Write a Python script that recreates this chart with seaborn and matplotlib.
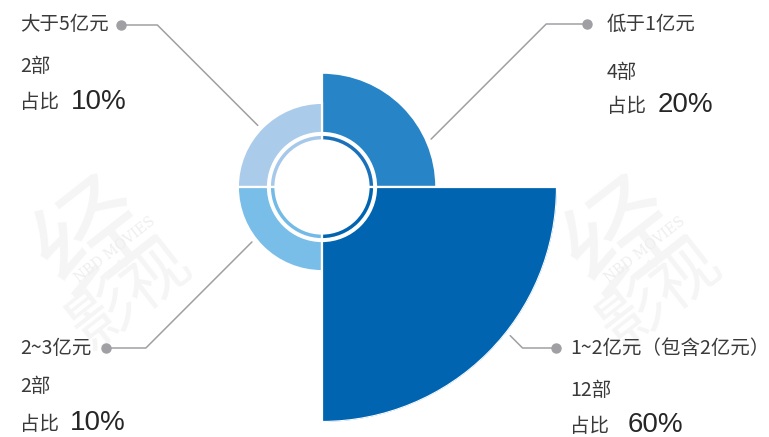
import numpy as np
import pandas as pd
import matplotlib
matplotlib.use("Agg")
import matplotlib.pyplot as plt
from matplotlib.lines import Line2D
import seaborn as sns

# ---------------- data ----------------
categories = ["低于1亿元", "大于5亿元", "2~3亿元", "1~2亿元（包含2亿元）"]
counts = [4, 2, 2, 12]            # 部
shares = [20, 10, 10, 60]         # 占比 %

# ---------------- style ----------------
sns.set_theme(style="white")
plt.rcParams["font.family"] = ["Noto Sans CJK SC", "DejaVu Sans"]

W, H = 769, 437
fig = plt.figure(figsize=(W / 100, H / 100), dpi=100)
fig.patch.set_facecolor("white")

sector_colors = ["#2784c7", "#abcbeb", "#79bee9", "#0064b1"]
ring_colors = ["#1b70ba", "#a6c8ea", "#74bae7", "#0064b1"]
text_color = "#3a3a3a"

# quadrant order: top-right, top-left, bottom-left, bottom-right
theta_centers = np.pi / 4 + np.arange(len(categories)) * np.pi / 2

# centre of the rose and outer pixel radius of the largest value
cx, cy, R = 322, 187, 235
HOLE = 54                     # pixel radius where value 0 sits
rmax = max(shares)
rmin = -HOLE * rmax / (R - HOLE)   # radial value at the centre

ax = fig.add_axes([(cx - R) / W, (H - cy - R) / H, 2 * R / W, 2 * R / H],
                  projection="polar")

df = pd.DataFrame({"theta": theta_centers, "share": shares, "cat": categories})
sns.barplot(data=df, x="theta", y="share", hue="cat", native_scale=True,
            palette=dict(zip(categories, sector_colors)), width=1.0,
            saturation=1, errorbar=None, legend=False, dodge=False, ax=ax,
            edgecolor="white", linewidth=1.6, bottom=0)

# thin inner ring
px2v = (R - HOLE) / rmax
ring_in, ring_out = (46.5 - HOLE) / px2v, (52.2 - HOLE) / px2v
ax.bar(theta_centers, [ring_out - ring_in] * len(categories), width=np.pi / 2,
       bottom=ring_in, color=ring_colors, edgecolor="white", linewidth=1.6,
       align="center")

ax.set_xlim(0, 2 * np.pi)
ax.set_ylim(rmin, rmax)
ax.set_axis_off()

# ---------------- watermark ----------------
for (wx, wy) in [(95, 240), (625, 240)]:
    fig.text(wx / W, 1 - wy / H, "经", fontsize=80, color="#f5f5f5",
             rotation=38, ha="center", va="center", zorder=-5)
    fig.text((wx + 35) / W, 1 - (wy + 55) / H, "影视", fontsize=48,
             color="#f5f5f5", rotation=38, ha="center", va="center", zorder=-5)
    fig.text((wx + 20) / W, 1 - (wy + 10) / H, "NBD MOVIES", fontsize=10,
             color="#eeeeee", rotation=38, ha="center", va="center",
             family="DejaVu Serif", zorder=-4)

# ---------------- labels & leader lines ----------------
# (start angle deg, dot x, dot y, text x, title y, count y, share y, pct x)
layout = [
    (23.7, 586.5, 24, 607, 24, 72, 106, 658),
    (136.2, 120.5, 25, 20, 25, 66, 103, 71),
    (218.1, 105.5, 348, 20, 348, 387, 424, 70),
    (321.7, 556, 348, 570, 348, 390, 426, 628),
]

line_color = "#a0a0a4"
for i, (ang, dx, dy, tx, ty1, ty2, ty3, px) in enumerate(layout):
    r_start = shares[i] + 1.6
    sx, sy = ax.transData.transform((np.deg2rad(ang), r_start))
    sy = H - sy  # to top-down pixel coords
    # 45-degree diagonal, then horizontal to the dot
    ddy = dy - sy
    ex = sx + np.sign(dx - sx) * abs(ddy)
    ey = dy
    xs = np.array([sx, ex, dx]) / W
    ys = 1 - np.array([sy, ey, dy]) / H
    fig.add_artist(Line2D(xs, ys, color=line_color, lw=1.1,
                          transform=fig.transFigure))
    fig.add_artist(Line2D([dx / W], [1 - dy / H], marker="o", markersize=6.5,
                          color=line_color, transform=fig.transFigure))

    fig.text(tx / W, 1 - ty1 / H, categories[i], fontsize=14,
             color=text_color, ha="left", va="center")
    fig.text(tx / W, 1 - ty2 / H, f"{counts[i]}部", fontsize=14,
             color=text_color, ha="left", va="center")
    fig.text(tx / W, 1 - ty3 / H, "占比", fontsize=14,
             color=text_color, ha="left", va="center")
    fig.text(px / W, 1 - (ty3 - 1) / H, f"{shares[i]}%", fontsize=20,
             color="#262626", ha="left", va="center",
             family=["Liberation Sans", "DejaVu Sans"])

fig.savefig("out.png", dpi=100)
